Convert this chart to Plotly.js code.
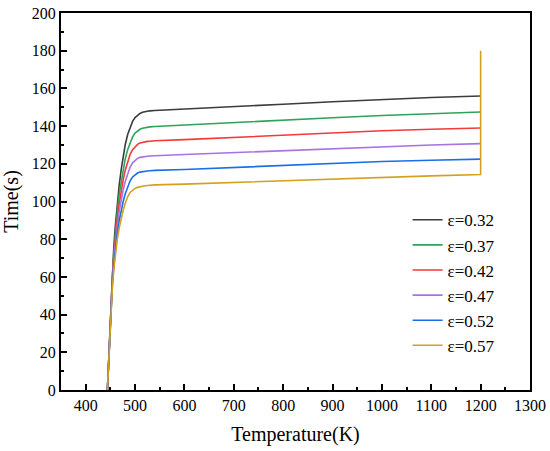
<!DOCTYPE html>
<html>
<head>
<meta charset="utf-8">
<script src="https://cdn.plot.ly/plotly-3.0.1.min.js"></script>
<style>html,body{margin:0;padding:0;background:#fff}#chart{width:550px;height:451px}</style>
</head>
<body>
<div id="chart"></div>
<script>
// Temperature grid (K) shared by all curves
const temperature = [444, 446, 448, 451, 454, 457, 460, 464, 468, 472, 476, 480, 485, 490, 495, 500, 505, 510, 515, 520, 525, 530, 540, 600, 700, 800, 900, 1000, 1100, 1200];

const labels = ["ε=0.32", "ε=0.37", "ε=0.42", "ε=0.47", "ε=0.52", "ε=0.57"];

const time032 = [0, 12, 28, 48, 62, 76, 87, 100, 109, 117, 124, 130, 135.5, 139.5, 142.5, 144.5, 145.8, 146.7, 147.3, 147.7, 148, 148.1, 148.3, 149, 150.3, 151.6, 152.9, 154.2, 155.2, 156];
const time037 = [0, 12, 28, 47, 60, 73, 84, 95, 104, 111, 117.5, 122.5, 127.5, 131.5, 134.3, 136.3, 137.5, 138.3, 138.9, 139.2, 139.5, 139.6, 139.8, 140.5, 141.8, 143.1, 144.4, 145.6, 146.6, 147.5];
const time042 = [0, 12, 27, 46, 59, 71, 81, 91, 99, 106, 111.5, 116.5, 121.5, 125, 127.5, 129.2, 130.3, 131, 131.4, 131.7, 131.9, 132, 132.2, 132.8, 134, 135.2, 136.4, 137.5, 138.3, 139];
const time047 = [0, 11, 27, 45, 57, 69, 78, 87, 95, 101, 106, 110.5, 115, 118.3, 120.5, 122, 122.9, 123.4, 123.7, 123.9, 124, 124.1, 124.3, 124.9, 126, 127.1, 128.2, 129.2, 130, 130.7];
const time052 = [0, 11, 26, 44, 56, 66, 75, 83, 90, 95.5, 100, 104, 108, 111, 113, 114.3, 115.1, 115.6, 115.9, 116.1, 116.2, 116.3, 116.5, 117, 118.1, 119.2, 120.2, 121.2, 121.9, 122.5];
const time057 = [0, 11, 26, 43, 54, 64, 72, 80, 86, 91, 95.5, 99, 102.5, 104.8, 106, 106.9, 107.5, 107.9, 108.2, 108.4, 108.5, 108.6, 108.8, 109.2, 110.1, 111, 112, 112.9, 113.6, 114.3];
// final vertical rise of the ε=0.57 curve at 1200 K
const tailTemp057 = [1200];
const tailTime057 = [180];

const colors = ["#3c3c3c", "#2ea35a", "#f23a3a", "#a972e0", "#1a6fe8", "#d4a020"];
const series = [time032, time037, time042, time047, time052, time057];

const traces = series.map((ys, i) => {
  let xs = temperature.slice();
  let yv = ys.slice();
  if (i === 5) { xs = xs.concat(tailTemp057); yv = yv.concat(tailTime057); }
  return {
    type: "scatter", mode: "lines", x: xs, y: yv, name: labels[i],
    line: {color: colors[i], width: 1.6}
  };
});

const serif = "Liberation Serif";
const layout = {
  width: 550, height: 451,
  margin: {l: 61, r: 20, t: 13, b: 61},
  paper_bgcolor: "#fff", plot_bgcolor: "#fff",
  font: {family: serif},
  showlegend: true,
  legend: {
    x: 0.739, y: 0.498, xanchor: "left", yanchor: "top",
    font: {family: serif, size: 17, color: "#000"},
    bgcolor: "rgba(0,0,0,0)", tracegroupgap: 0
  },
  xaxis: {
    range: [350, 1300], dtick: 100, tick0: 0,
    ticks: "inside", ticklen: 6, tickwidth: 2, tickcolor: "#000",
    minor: {dtick: 50, ticks: "inside", ticklen: 3, tickwidth: 2, tickcolor: "#000"},
    showline: true, linewidth: 2, linecolor: "#000", mirror: true,
    showgrid: false, zeroline: false,
    tickfont: {family: serif, size: 16, color: "#000"},
    title: {text: "Temperature(K)", font: {family: serif, size: 20, color: "#000"}, standoff: 14}
  },
  yaxis: {
    range: [0, 200], dtick: 20, tick0: 0,
    ticks: "inside", ticklen: 6, tickwidth: 2, tickcolor: "#000",
    minor: {dtick: 10, ticks: "inside", ticklen: 3, tickwidth: 2, tickcolor: "#000"},
    showline: true, linewidth: 2, linecolor: "#000", mirror: true,
    showgrid: false, zeroline: false,
    tickfont: {family: serif, size: 16, color: "#000"},
    title: {text: "Time(s)", font: {family: serif, size: 20, color: "#000"}, standoff: 8}
  }
};

Plotly.newPlot("chart", traces, layout, {displayModeBar: false, staticPlot: true});
</script>
</body>
</html>
